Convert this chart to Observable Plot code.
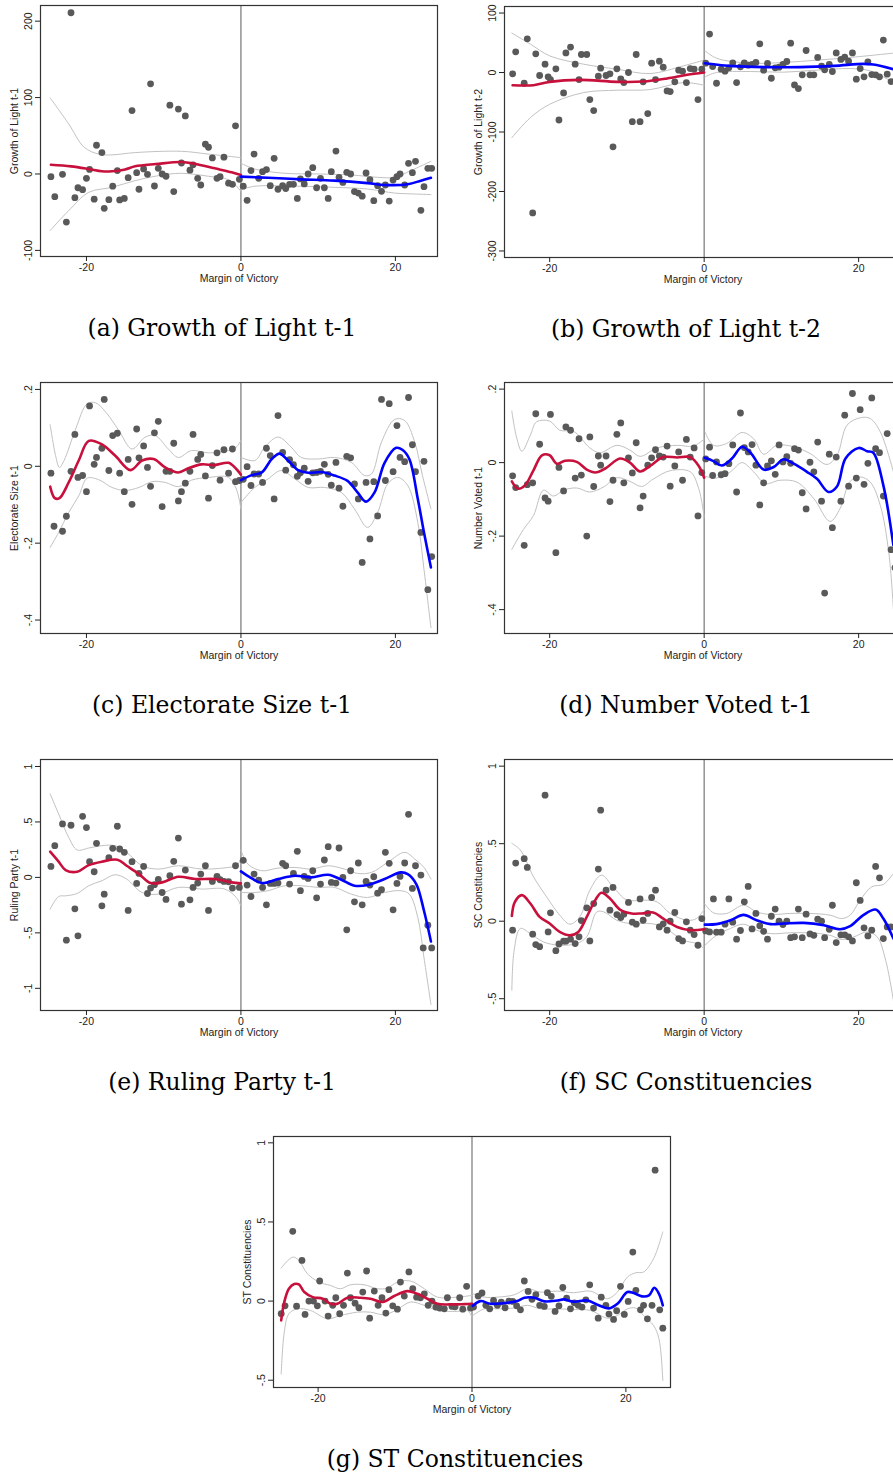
<!DOCTYPE html>
<html><head><meta charset="utf-8">
<script src="https://cdn.jsdelivr.net/npm/d3@7"></script>
<script src="https://cdn.jsdelivr.net/npm/@observablehq/plot@0.6"></script>
<style>
html,body{margin:0;padding:0;background:#fff;}
#page{position:relative;width:893px;height:1476px;overflow:hidden;background:#fff;}
.panel{position:absolute;width:445px;height:290px;}
.panel svg{max-width:none !important;width:445px;height:290px;}
.cap{position:absolute;width:444px;text-align:center;font-family:"DejaVu Serif",serif;font-size:23.5px;line-height:30px;color:#000;white-space:pre;}
</style></head><body><div id="page"></div>
<script>
// ---------- shared ----------
const xTicks = [-20, 0, 20];
const xTitle = "Margin of Victory";

// ---------- (a) Growth of Light t-1 ----------
const ptsA = [[-24.6,-3.5],[-24.1,-29.7],[-23.1,-0.4],[-22.6,-63],[-22.0,211],[-21.5,-31],[-21.1,-18],[-20.5,-20.5],[-20.0,-5.7],[-19.6,6],[-19.0,-33],[-18.7,37.6],[-18.0,28],[-17.7,-45],[-17.1,-33.6],[-16.6,-16],[-16.0,4.4],[-15.7,-34],[-15.1,-32],[-14.6,-4.8],[-14.1,83],[-13.5,1.7],[-13.2,-20],[-12.6,6.6],[-12.1,-0.4],[-11.7,118],[-11.2,-15.7],[-10.7,7.4],[-10.2,0],[-9.7,-3],[-9.2,90],[-8.7,-23],[-8.1,85],[-7.7,14.4],[-7.2,76],[-6.6,5],[-6.2,12],[-5.6,-5.7],[-5.2,-14.4],[-4.6,39],[-4.2,35],[-3.7,21],[-3.1,-5.7],[-2.7,-3.5],[-2.2,22],[-1.6,-12],[-1.1,-13.5],[-0.7,63],[-0.2,-7],
[0.3,-16],[0.8,-34.5],[1.3,4.4],[1.7,26],[2.3,-5.7],[2.8,3],[3.3,5.7],[3.8,-15.3],[4.3,20.5],[4.8,-20],[5.4,-15.3],[5.8,-19],[6.3,-13.5],[6.8,-13.5],[7.3,-32],[7.7,-6.5],[8.2,-13],[8.7,0],[9.3,8.3],[9.8,-18],[10.3,-5.7],[10.8,-18],[11.3,-32],[11.7,3],[12.3,30],[12.7,-4.4],[13.2,-11],[13.7,2.2],[14.2,0],[14.7,-23],[15.2,-25],[15.7,-29],[16.2,1.3],[16.7,-7.4],[17.2,-35],[17.7,-15.3],[18.2,-22.7],[18.7,-14.4],[19.2,-35.4],[19.7,-8],[20.2,-3.5],[20.6,0],[21.2,-14.4],[21.7,14],[22.2,1.7],[22.6,16.6],[23.3,-47.6],[23.7,-16.6],[24.2,7.4],[24.7,7.4]];
const fitLA = [[-24.6,12],[-22,10],[-19.7,6.5],[-18,3.5],[-16.7,3.5],[-15,6],[-13.7,10],[-11,13],[-7.7,15.7],[-6,13.5],[-3.4,7.4],[-1.2,2.2],[0,-1.3]];
const fitRA = [[0,-3.5],[3.5,-5],[7.8,-7],[12.1,-8.7],[16.4,-12],[18.6,-14.4],[21.6,-13.5],[23.3,-8.7],[24.6,-5]];
const ciUpLA = [[-24.7,99.6],[-22.3,65.5],[-20.3,35],[-18.4,26],[-16.7,25],[-13.7,28],[-7.7,29.7],[-4.2,26],[0,21.4]];
const ciLoLA = [[-24.7,-74],[-22.3,-48],[-19.7,-24],[-16.7,-17.5],[-13.7,-8.7],[-10.7,-2.2],[-7.7,0.9],[-4.2,-3],[-1.5,-8],[0,-22.7]];
const ciUpRA = [[0,14],[1.8,6.5],[5.7,0.9],[10,0],[14.3,-1.3],[17.7,-4.4],[19.9,-4.4],[22,4.4],[24.6,16.6]];
const ciLoRA = [[0,-20.5],[1.8,-16],[5.7,-15.7],[12.1,-17.5],[16.4,-19.7],[19.9,-25],[22,-26],[24.6,-27]];
const yTicksA = [200, 100, 0, -100];
const yLabelsA = ["200", "100", "0", "-100"];

// ---------- (b) Growth of Light t-2 ----------
const ptsB = [[-24.8,-2.2],[-24.4,34.8],[-23.3,-18],[-22.9,56.7],[-22.2,-236],[-21.8,31.5],[-21.3,-5],[-20.6,14],[-20.2,-7.3],[-19.9,-11.8],[-19.2,6.2],[-18.8,-79.8],[-18.2,-34.3],[-17.9,33],[-17.3,42.7],[-16.7,14],[-16.2,-11.8],[-15.9,30.3],[-15.2,30.3],[-14.8,-45.5],[-14.3,-64],[-13.7,-6.2],[-13.4,7.3],[-12.7,-5],[-12.2,-2.2],[-11.8,-125],[-11.3,6.2],[-10.8,-10.7],[-10.4,-16.9],[-9.8,0],[-9.3,-82.6],[-8.8,30.3],[-8.3,-82.6],[-7.9,-15.7],[-7.3,-69],[-6.8,15.7],[-6.3,-11.8],[-5.8,19],[-5.3,9],[-4.8,-31],[-4.4,-32],[-3.8,-15.7],[-3.3,4],[-2.8,2.2],[-2.3,-16.9],[-1.8,6.7],[-1.3,5.6],[-0.8,-45.5],[-0.3,5.6],
[0.2,15.7],[0.7,64.6],[1.1,10],[1.6,-18],[2.2,5.6],[2.7,2.2],[3.2,7.9],[3.7,16.3],[4.2,-16.9],[4.7,9.6],[5.2,16.3],[5.7,12.4],[6.2,13.5],[6.7,16.9],[7.2,48.3],[7.7,4],[8.2,15.2],[8.7,-9.6],[9.2,7.9],[9.7,9],[10.2,13.5],[10.7,18.5],[11.2,49.4],[11.7,-20.8],[12.2,-27],[12.7,-3.9],[13.2,37],[13.7,-3.9],[14.2,-3.9],[14.7,25.3],[15.2,10.7],[15.6,4.5],[16.2,13.5],[16.6,1.7],[17.1,33],[17.7,22],[18.2,25.8],[18.7,19],[19.2,33],[19.7,-11.2],[20.2,6.7],[20.7,-7.3],[21.2,18],[21.7,-3.4],[22.2,-3.9],[22.7,-7.3],[23.2,54.5],[23.7,-2.8],[24.2,-15.2]];
const fitLB = [[-24.8,-21.3],[-22.1,-21.3],[-20,-15.7],[-16.1,-12.4],[-11.3,-15.7],[-7.9,-15.2],[-4.8,-10],[-2.2,-3.9],[0,0]];
const fitRB = [[0.1,15.7],[3.8,10.7],[8.1,9],[12.4,9],[16.8,11.2],[20.6,14.6],[21.9,13.5],[24.5,5.6]];
const ciUpLB = [[-24.9,66.3],[-22.5,47.8],[-20,28],[-15.6,14],[-11.3,5.6],[-7,-1.7],[-2.7,11.2],[0,20.8]];
const ciLoLB = [[-24.9,-109.6],[-22.5,-75.8],[-20,-53.4],[-15.6,-33.7],[-11.3,-29.8],[-7,-28.7],[-2.7,-16.9],[0,-21.3]];
const ciUpRB = [[0.1,36.5],[1.6,24],[6,15.7],[10.3,16.9],[14.6,20.8],[18.9,25.3],[24.5,32.6]];
const ciLoRB = [[0.1,-7.3],[1.6,0],[6,1.7],[10.3,0.6],[14.6,4],[18.9,6.7],[21.5,2.8],[24.5,-16.9]];
const yTicksB = [100, 0, -100, -200, -300];
const yLabelsB = ["100", "0", "-100", "-200", "-300"];

// ---------- (c) Electorate Size t-1 ----------
const ptsC = [[-24.6,-0.018],[-24.2,-0.156],[-23.1,-0.169],[-22.6,-0.130],[-22.0,-0.013],[-21.5,0.083],[-21.1,-0.029],[-20.5,-0.024],[-20.0,-0.066],[-19.6,0.157],[-19.0,0.005],[-18.7,0.023],[-18.0,0.047],[-17.7,0.174],[-17.1,-0.011],[-16.6,0.080],[-16.0,0.086],[-15.7,-0.018],[-15.1,-0.066],[-14.6,0.018],[-14.1,-0.099],[-13.5,0.097],[-13.2,0.022],[-12.6,0.053],[-12.1,-0.003],[-11.7,-0.052],[-11.2,0.087],[-10.7,0.117],[-10.2,-0.105],[-9.7,-0.013],[-9.2,-0.013],[-8.7,0.060],[-8.1,-0.090],[-7.7,-0.066],[-7.2,-0.044],[-6.6,-0.013],[-6.2,0.083],[-5.6,0.018],[-5.2,0.031],[-4.6,-0.025],[-4.2,-0.083],[-3.7,0.002],[-3.1,0.035],[-2.7,-0.036],[-2.2,0.043],[-1.6,-0.018],[-1.1,0.045],[-0.7,-0.040],[-0.2,-0.037],
[0.3,-0.034],[0.8,-0.001],[1.3,-0.050],[1.7,-0.020],[2.3,-0.020],[2.8,-0.042],[3.3,0.047],[3.8,0.028],[4.3,-0.085],[4.8,0.132],[5.4,0.036],[5.8,-0.010],[6.3,0.017],[6.8,0.004],[7.3,-0.026],[7.7,-0.017],[8.2,-0.005],[8.7,-0.039],[9.3,-0.017],[9.8,-0.016],[10.3,-0.013],[10.8,0.005],[11.3,-0.021],[11.7,-0.049],[12.3,0.010],[12.7,-0.057],[13.2,-0.104],[13.7,0.026],[14.2,0.022],[14.7,-0.046],[15.2,-0.085],[15.7,-0.250],[16.2,-0.042],[16.7,-0.189],[17.2,-0.040],[17.7,-0.129],[18.2,0.174],[18.7,-0.037],[19.2,0.163],[19.7,-0.014],[20.2,0.106],[20.6,0.023],[21.2,0.012],[21.7,0.179],[22.2,0.056],[22.6,-0.014],[23.3,-0.172],[23.7,0.013],[24.2,-0.321],[24.7,-0.235]];
const fitLC = [[-24.7,-0.053],[-24.1,-0.083],[-23.5,-0.083],[-22.3,-0.042],[-21,0.015],[-19.7,0.066],[-18,0.057],[-16.3,0.028],[-14.3,-0.010],[-12.8,0.015],[-11.3,0.019],[-9.8,-0.003],[-8.1,-0.016],[-6.8,-0.005],[-5.1,0.005],[-3.4,0.003],[-1.6,0.009],[-0.6,-0.007],[0,-0.022]];
const fitRC = [[0,-0.036],[1.4,-0.023],[2.7,-0.016],[4,0.019],[5,0.033],[6.1,0.015],[7.4,-0.010],[8.7,-0.017],[10.4,-0.015],[12.1,-0.024],[13.8,-0.038],[15.1,-0.068],[16.2,-0.092],[17.3,-0.068],[18.6,0.009],[20.1,0.048],[20.9,0.043],[21.8,0.019],[22.9,-0.085],[23.7,-0.172],[24.6,-0.263]];
const ciUpLC = [[-24.7,0.108],[-24,0.028],[-23.5,-0.003],[-22.9,0.015],[-21.4,0.097],[-19.9,0.163],[-18.8,0.165],[-17.5,0.141],[-15.8,0.093],[-14.1,0.045],[-12.4,0.076],[-11.1,0.080],[-9.4,0.045],[-8.1,0.023],[-6.4,0.041],[-4.2,0.035],[-1.6,0.041],[-0.6,0.050],[0,0.067]];
const ciLoLC = [[-24.7,-0.211],[-23.6,-0.172],[-22.3,-0.120],[-21,-0.077],[-19.9,-0.031],[-18.4,-0.035],[-16.7,-0.055],[-15,-0.063],[-13.2,-0.055],[-11.5,-0.040],[-9.8,-0.042],[-8.1,-0.053],[-6.4,-0.036],[-4.2,-0.029],[-1.6,-0.029],[-0.6,-0.059],[0,-0.111]];
const ciUpRC = [[0,0.023],[1.8,0.015],[3.1,0.050],[4.8,0.076],[6.5,0.050],[7.8,0.023],[10,0.019],[12.1,0.023],[14.3,0.010],[16,-0.024],[16.9,-0.020],[18.2,0.063],[19.9,0.122],[21.2,0.119],[22.5,0.063],[23.5,-0.024],[24.6,-0.111]];
const ciLoRC = [[0,-0.094],[1.8,-0.055],[3.5,-0.033],[5.2,-0.011],[7,-0.033],[8.7,-0.055],[10.8,-0.055],[13,-0.068],[14.7,-0.111],[16.4,-0.159],[17.7,-0.120],[19,-0.046],[20.3,-0.029],[21.6,-0.050],[22.9,-0.146],[23.7,-0.268],[24.6,-0.420]];
const yTicksC = [0.2, 0, -0.2, -0.4];
const yLabelsC = [".2", "0", "-.2", "-.4"];

// ---------- (d) Number Voted t-1 ----------
const ptsD = [[-24.8,-0.036],[-24.4,-0.068],[-23.3,-0.225],[-22.9,-0.060],[-22.2,-0.055],[-21.8,0.133],[-21.3,0.050],[-20.6,-0.096],[-20.2,-0.105],[-19.9,0.131],[-19.2,-0.245],[-18.8,-0.013],[-18.2,-0.077],[-17.9,0.097],[-17.3,0.088],[-16.7,-0.042],[-16.2,0.065],[-15.9,-0.034],[-15.2,-0.200],[-14.8,0.070],[-14.3,-0.065],[-13.7,0.018],[-13.4,-0.007],[-12.7,0.018],[-12.2,-0.106],[-11.8,-0.048],[-11.3,0.077],[-10.8,0.108],[-10.4,-0.055],[-9.8,0.013],[-9.3,-0.028],[-8.8,0.054],[-8.3,-0.123],[-7.9,-0.091],[-7.3,-0.007],[-6.8,0.013],[-6.3,0.035],[-5.8,0.018],[-5.3,0.015],[-4.8,0.045],[-4.4,-0.064],[-3.8,-0.009],[-3.3,0.029],[-2.8,-0.048],[-2.3,0.063],[-1.8,0.015],[-1.3,0.040],[-0.8,-0.145],[-0.3,-0.027],
[0.2,0.010],[0.7,0.042],[1.1,-0.035],[1.6,0.002],[2.2,-0.033],[2.7,-0.030],[3.2,-0.003],[3.7,0.048],[4.2,-0.080],[4.7,0.135],[5.2,0.041],[5.7,0.029],[6.2,0.049],[6.7,-0.007],[7.2,-0.115],[7.7,-0.055],[8.2,-0.009],[8.7,0.005],[9.2,-0.032],[9.7,0.048],[10.2,0.002],[10.7,0.016],[11.2,-0.002],[11.7,0.038],[12.2,0.034],[12.7,-0.082],[13.2,-0.126],[13.7,0.001],[14.2,-0.025],[14.7,0.056],[15.2,-0.105],[15.6,-0.355],[16.2,0.023],[16.6,-0.177],[17.1,0.015],[17.7,-0.105],[18.2,0.129],[18.7,-0.064],[19.2,0.188],[19.7,-0.042],[20.2,0.144],[20.7,-0.059],[21.2,-0.002],[21.7,0.176],[22.2,0.038],[22.7,0.027],[23.2,-0.091],[23.7,0.079],[24.2,-0.237],[24.7,-0.286]];
const fitLD = [[-24.9,-0.051],[-24.1,-0.071],[-23.2,-0.062],[-22.1,-0.021],[-21,0.020],[-20,0.020],[-19.1,-0.003],[-18,0.005],[-16.5,0.002],[-15.2,-0.019],[-14.1,-0.027],[-12.8,-0.016],[-10.9,0.011],[-9.6,0],[-8.3,-0.024],[-7,-0.009],[-5.3,0.015],[-3.5,0.014],[-1.8,0.015],[-0.7,-0.009],[0,-0.041]];
const fitRD = [[0.1,0.013],[1.2,0.004],[2.3,-0.008],[3.6,0.011],[4.9,0.043],[6,0.027],[7.7,-0.019],[9,-0.012],[10.3,0.009],[11.6,-0.003],[13.3,-0.025],[14.6,-0.044],[16.1,-0.080],[17.2,-0.065],[18.3,0.011],[20,0.040],[21.1,0.031],[21.9,0.027],[23.2,-0.062],[24.5,-0.225]];
const ciUpLD = [[-24.9,0.140],[-24.3,0.070],[-23.6,0.031],[-22.5,0.075],[-21.7,0.111],[-20,0.113],[-18.7,0.088],[-16.9,0.085],[-14.8,0.040],[-13.5,0.027],[-11.3,0.047],[-9.6,0.034],[-8.3,0.017],[-6.1,0.040],[-3.5,0.047],[-1.4,0.045],[0,0.064]];
const ciLoLD = [[-24.9,-0.236],[-23.4,-0.182],[-22.1,-0.144],[-20.8,-0.075],[-19.5,-0.091],[-18.2,-0.075],[-16.5,-0.069],[-14.8,-0.080],[-13,-0.066],[-11.3,-0.041],[-9.6,-0.051],[-8.1,-0.065],[-6.6,-0.045],[-4.4,-0.022],[-1.8,-0.025],[-0.7,-0.071],[0,-0.148]];
const ciUpRD = [[0.1,0.084],[1.2,0.047],[2.9,0.052],[4.9,0.082],[6.4,0.065],[7.7,0.023],[9.4,0.047],[11.6,0.043],[13.7,0.025],[15.9,-0.005],[17.2,0.020],[18.5,0.102],[20.2,0.122],[21.5,0.120],[22.8,0.084],[24.5,-0.025]];
const ciLoRD = [[0.1,-0.037],[1.6,-0.042],[3.4,-0.025],[4.9,0],[6.4,-0.025],[7.9,-0.057],[9.8,-0.048],[12,-0.053],[14.2,-0.098],[16.3,-0.160],[17.6,-0.125],[18.9,-0.051],[20.2,-0.039],[21.5,-0.053],[22.8,-0.116],[23.9,-0.244],[24.5,-0.398]];
const yTicksD = [0.2, 0, -0.2, -0.4];
const yLabelsD = [".2", "0", "-.2", "-.4"];

// ---------- (e) Ruling Party t-1 ----------
const ptsE = [[-24.6,0.099],[-24.1,0.286],[-23.1,0.482],[-22.6,-0.566],[-22.0,0.470],[-21.5,-0.283],[-21.1,-0.527],[-20.5,0.551],[-20.0,0.449],[-19.6,0.142],[-19.0,0.051],[-18.7,0.307],[-18.0,-0.256],[-17.7,-0.151],[-17.1,0.178],[-16.6,0.262],[-16.0,0.461],[-15.7,0.256],[-15.1,0.226],[-14.6,-0.298],[-14.1,0.142],[-13.5,-0.054],[-13.2,0.036],[-12.6,0.099],[-12.1,-0.145],[-11.7,-0.096],[-11.2,-0.066],[-10.7,-0.018],[-10.2,-0.136],[-9.7,-0.199],[-9.2,0.015],[-8.7,0.145],[-8.1,0.355],[-7.7,-0.241],[-7.2,0.066],[-6.6,-0.202],[-6.2,-0.090],[-5.6,-0.051],[-5.2,0.030],[-4.6,0.105],[-4.2,-0.298],[-3.7,-0.036],[-3.1,0.009],[-2.7,-0.021],[-2.2,-0.036],[-1.6,-0.039],[-1.1,-0.096],[-0.7,0.105],[-0.2,-0.090],
[0.3,0.154],[0.8,-0.069],[1.3,-0.172],[1.7,0.030],[2.3,-0.024],[2.8,-0.090],[3.3,-0.247],[3.8,-0.054],[4.3,-0.054],[4.8,-0.051],[5.4,0.127],[5.8,0.105],[6.3,-0.060],[6.8,0.036],[7.3,0.235],[7.7,-0.120],[8.2,0.009],[8.7,-0.009],[9.3,0.060],[9.8,-0.184],[10.3,-0.060],[10.8,0.157],[11.3,0.277],[11.7,-0.045],[12.3,-0.051],[12.7,0.265],[13.2,0.000],[13.7,-0.473],[14.2,0.060],[14.7,-0.220],[15.2,0.130],[15.7,-0.247],[16.2,-0.036],[16.7,-0.069],[17.2,0.006],[17.7,-0.142],[18.2,-0.111],[18.7,0.226],[19.2,0.127],[19.7,-0.292],[20.2,-0.054],[20.6,0.009],[21.2,0.130],[21.7,0.569],[22.2,-0.099],[22.6,0.105],[23.3,0.021],[23.6,-0.636],[24.2,-0.431],[24.7,-0.636]];
const fitLE = [[-24.7,0.232],[-23.6,0.142],[-22.7,0.066],[-21.2,0.051],[-19.7,0.111],[-18,0.142],[-16,0.160],[-14.8,0.105],[-13.2,0.030],[-11.7,-0.051],[-10.2,-0.045],[-8.1,0.006],[-5.9,-0.015],[-3.4,-0.015],[-1.2,-0.045],[0,-0.054]];
const fitRE = [[0,0.054],[1.4,-0.009],[2.7,-0.051],[4.8,-0.015],[7,0.015],[9.1,0],[11.3,0.024],[13,-0.021],[14.7,-0.075],[16.4,-0.069],[18.6,-0.015],[20.7,0.045],[21.6,0.030],[22.7,-0.060],[23.7,-0.301],[24.6,-0.578]];
const ciUpLE = [[-24.7,0.753],[-23.6,0.572],[-22.3,0.361],[-21.2,0.247],[-19.7,0.265],[-18,0.286],[-16.3,0.286],[-14.8,0.226],[-12.8,0.105],[-10.7,0.075],[-8.1,0.105],[-5.1,0.075],[-1.6,0.090],[-0.6,0.105],[0,0.166]];
const ciLoLE = [[-24.7,-0.286],[-23.6,-0.172],[-22.7,-0.166],[-21.2,-0.145],[-19.7,-0.075],[-18,-0.030],[-16.3,0.024],[-14.8,-0.015],[-12.8,-0.136],[-10.7,-0.151],[-8.1,-0.090],[-5.1,-0.105],[-2.1,-0.105],[-0.6,-0.181],[0,-0.256]];
const ciUpRE = [[0,0.247],[0.9,0.120],[2.7,0.060],[4.8,0.084],[7,0.090],[9.1,0.075],[11.3,0.105],[13.4,0.075],[15.1,0.036],[16.9,0.045],[19,0.136],[21.2,0.226],[22.5,0.166],[23.7,0.090],[24.6,-0.015]];
const ciLoRE = [[0,-0.136],[1.8,-0.136],[3.5,-0.120],[5.7,-0.075],[7.8,-0.075],[10,-0.090],[12.1,-0.090],[14.3,-0.151],[16.4,-0.181],[18.6,-0.136],[20.7,-0.120],[21.8,-0.151],[22.9,-0.361],[23.7,-0.723],[24.6,-1.145]];
const yTicksE = [1, 0.5, 0, -0.5, -1];
const yLabelsE = ["1", ".5", "0", "-.5", "-1"];

// ---------- (f) SC Constituencies ----------
const ptsF = [[-24.8,-0.058],[-24.4,0.375],[-23.3,0.403],[-22.9,0.347],[-22.2,-0.084],[-21.8,-0.151],[-21.3,-0.164],[-20.6,0.813],[-20.2,-0.069],[-19.9,0.054],[-19.2,-0.190],[-18.8,-0.147],[-18.2,-0.129],[-17.9,-0.129],[-17.3,-0.116],[-16.7,-0.144],[-16.2,-0.101],[-15.9,0.004],[-15.2,0.086],[-14.8,-0.127],[-14.3,0.114],[-13.7,0.336],[-13.4,0.716],[-12.7,0.200],[-12.2,0.071],[-11.8,0.218],[-11.3,0.043],[-10.8,0.024],[-10.4,0.045],[-9.8,0.121],[-9.3,-0.006],[-8.8,-0.019],[-8.3,0.144],[-7.9,0.006],[-7.3,0.050],[-6.8,0.153],[-6.3,0.200],[-5.8,-0.037],[-5.3,-0.017],[-4.8,-0.058],[-4.4,0.000],[-3.8,0.056],[-3.3,-0.112],[-2.8,-0.127],[-2.3,-0.004],[-1.8,-0.058],[-1.3,-0.086],[-0.8,-0.155],[-0.3,0.017],
[0.2,-0.063],[0.7,-0.069],[1.2,0.144],[1.6,-0.071],[2.2,-0.071],[2.7,-0.019],[3.2,0.144],[3.7,-0.006],[4.2,-0.116],[4.7,-0.060],[5.2,0.125],[5.7,0.224],[6.2,-0.050],[6.7,0.050],[7.2,-0.030],[7.7,-0.065],[8.2,-0.116],[8.7,0.032],[9.2,0.078],[9.7,0.000],[10.2,-0.022],[10.7,0.000],[11.2,-0.106],[11.7,-0.101],[12.2,0.078],[12.7,-0.106],[13.2,0.045],[13.7,-0.082],[14.2,-0.091],[14.7,0.013],[15.2,0.000],[15.6,-0.106],[16.2,-0.052],[16.6,0.103],[17.1,-0.138],[17.7,-0.088],[18.2,-0.088],[18.7,-0.101],[19.2,-0.127],[19.7,0.248],[20.2,0.134],[20.7,-0.043],[21.2,-0.095],[21.7,-0.058],[22.2,0.353],[22.7,0.280],[23.2,-0.112],[23.7,-0.037],[24.2,-0.037]];
const fitLF = [[-24.9,0.034],[-24.5,0.125],[-23.6,0.168],[-22.5,0.114],[-21.3,0.028],[-20,-0.015],[-18.7,-0.069],[-17.4,-0.091],[-16.3,-0.069],[-15.2,0.028],[-14.1,0.136],[-13.3,0.183],[-12.2,0.147],[-10.9,0.075],[-9.4,0.050],[-8.1,0.050],[-6.6,0.056],[-5.3,0.017],[-3.5,-0.037],[-1.8,-0.058],[0,-0.052]];
const fitRF = [[0.1,-0.022],[1.6,-0.019],[3.4,0.006],[5.1,0.041],[6.8,0.006],[8.6,-0.019],[10.3,-0.015],[12.9,-0.011],[15.5,-0.026],[17.6,-0.052],[18.9,-0.032],[20.6,0.039],[22.2,0.075],[23.2,0.017],[24.5,-0.112]];
const ciUpLF = [[-24.9,0.502],[-23.8,0.459],[-22.1,0.287],[-20.4,0.157],[-18.7,0.039],[-17.4,-0.019],[-16.1,0.028],[-14.8,0.200],[-13.3,0.297],[-11.8,0.222],[-10,0.136],[-7.9,0.136],[-6.1,0.125],[-4.4,0.050],[-2.2,0.006],[-1,0.017],[0,0.075]];
const ciLoLF = [[-24.9,-0.446],[-24.6,-0.188],[-23.8,-0.047],[-22.5,-0.080],[-20.8,-0.134],[-18.7,-0.155],[-16.5,-0.144],[-15.2,-0.101],[-13.9,0.060],[-13,0.060],[-11.3,0.006],[-9.6,-0.015],[-7,-0.015],[-5.3,-0.037],[-2.7,-0.123],[-1,-0.144],[0,-0.177]];
const ciUpRF = [[0.1,0.110],[1.2,0.054],[2.9,0.050],[5.1,0.103],[6.8,0.060],[8.6,0.043],[11.1,0.050],[13.7,0.050],[16.3,0.039],[17.8,0.017],[18.9,0.039],[20.2,0.136],[21.7,0.222],[23.2,0.237],[24.5,0.308]];
const ciLoRF = [[0.1,-0.155],[1.6,-0.091],[3.4,-0.047],[5.1,-0.019],[6.8,-0.058],[8.6,-0.080],[11.1,-0.075],[13.7,-0.075],[16.3,-0.091],[17.8,-0.118],[19.4,-0.101],[21.1,-0.069],[22.4,-0.101],[23.5,-0.252],[24.5,-0.511]];
const yTicksF = [1, 0.5, 0, -0.5];
const yLabelsF = ["1", ".5", "0", "-.5"];

// ---------- (g) ST Constituencies ----------
const ptsG = [[-24.8,-0.080],[-24.3,-0.030],[-23.3,0.441],[-22.8,-0.032],[-22.1,0.257],[-21.7,-0.084],[-21.2,0.000],[-20.6,0.000],[-20.1,-0.030],[-19.8,0.127],[-19.1,0.000],[-18.7,-0.095],[-18.1,-0.027],[-17.7,0.021],[-17.2,-0.080],[-16.7,-0.027],[-16.2,0.177],[-15.8,0.021],[-15.2,-0.013],[-14.7,-0.042],[-14.2,0.057],[-13.7,0.190],[-13.3,-0.108],[-12.7,0.063],[-12.2,-0.027],[-11.7,0.021],[-11.2,-0.076],[-10.8,0.072],[-10.3,-0.030],[-9.7,-0.051],[-9.3,0.120],[-8.8,0.032],[-8.2,0.184],[-7.7,0.078],[-7.2,0.025],[-6.7,0.021],[-6.2,0.046],[-5.7,-0.027],[-5.2,0.000],[-4.7,-0.038],[-4.2,-0.044],[-3.6,-0.049],[-3.2,0.021],[-2.6,-0.034],[-2.2,-0.036],[-1.6,0.021],[-1.2,-0.051],[-0.7,0.093],[-0.2,-0.044],
[0.2,-0.038],[0.8,0.032],[1.3,0.051],[1.8,-0.027],[2.3,-0.049],[2.8,0.004],[3.3,-0.027],[3.8,-0.006],[4.3,-0.042],[4.8,0.000],[5.3,-0.002],[5.8,-0.030],[6.3,-0.055],[6.8,0.127],[7.3,0.061],[7.8,0.011],[8.3,0.040],[8.8,-0.027],[9.4,-0.034],[9.8,0.053],[10.3,0.030],[10.8,-0.065],[11.3,-0.030],[11.8,0.086],[12.3,0.019],[12.8,-0.049],[13.3,-0.011],[13.8,-0.027],[14.3,-0.038],[14.8,0.008],[15.3,0.103],[15.8,-0.044],[16.4,-0.108],[16.8,0.025],[17.4,-0.027],[17.8,-0.082],[18.4,-0.116],[18.8,-0.061],[19.3,0.093],[19.8,-0.084],[20.3,-0.002],[20.9,0.310],[21.3,0.068],[21.9,-0.055],[22.3,-0.027],[22.8,-0.112],[23.4,-0.027],[23.8,0.827],[24.4,-0.055],[24.8,-0.171]];
const fitLG = [[-24.8,-0.122],[-24.4,-0.006],[-23.8,0.078],[-23.1,0.108],[-22.5,0.105],[-21.8,0.057],[-20.7,0.025],[-19.4,0.015],[-18.4,-0.017],[-17.5,-0.017],[-16.2,0.021],[-14.5,0.021],[-13.2,0.015],[-11.6,-0.006],[-10.1,0.032],[-8.4,0.063],[-7.1,0.046],[-5.8,0.015],[-4.5,-0.017],[-2.8,-0.021],[-1,-0.019],[0,-0.017]];
const fitRG = [[0.1,-0.030],[1.1,0],[2.4,-0.017],[4.2,-0.013],[5.9,0],[6.8,0.021],[8.1,0.021],[9.4,-0.002],[11.1,0.004],[11.9,0.011],[13.2,-0.004],[15,0.004],[16.3,-0.023],[17.8,-0.046],[18.9,-0.017],[20.2,0.057],[21,0.051],[22.1,0.030],[23,0.036],[23.7,0.084],[24.3,0.046],[24.8,-0.027]];
const ciUpLG = [[-24.8,0.209],[-23.3,0.278],[-22.5,0.257],[-21.4,0.173],[-19.9,0.120],[-18.4,0.099],[-17.1,0.078],[-15.8,0.103],[-14,0.103],[-12.3,0.078],[-11,0.082],[-9.7,0.120],[-8,0.127],[-6.2,0.078],[-4.5,0.025],[-1.9,0.025],[0,0.036]];
const ciLoLG = [[-24.8,-0.460],[-24.4,-0.196],[-23.8,-0.080],[-22.7,-0.049],[-21,-0.059],[-18.8,-0.112],[-17.1,-0.091],[-14.9,-0.070],[-13.2,-0.070],[-11.4,-0.086],[-9.7,-0.053],[-8,-0.006],[-6.2,-0.027],[-4.5,-0.059],[-1.9,-0.065],[-0.6,-0.059],[0,-0.101]];
const ciUpRG = [[0.1,0.046],[1.6,0.025],[3.3,0.025],[5.5,0.040],[7.2,0.078],[8.9,0.057],[11.1,0.063],[13.2,0.053],[15.4,0.063],[17.6,0.015],[18.9,0.057],[20.2,0.152],[21.3,0.179],[22.3,0.184],[23.6,0.268],[24.8,0.437]];
const ciLoRG = [[0.1,-0.091],[1.6,-0.049],[3.3,-0.049],[5.5,-0.044],[7.2,-0.027],[8.9,-0.049],[11.1,-0.049],[13.2,-0.053],[15.4,-0.059],[17.6,-0.108],[18.9,-0.091],[20.2,-0.049],[21.3,-0.044],[22.3,-0.091],[23.6,-0.154],[24.3,-0.238],[24.8,-0.502]];
const yTicksG = [1, 0.5, 0, -0.5];
const yLabelsG = ["1", ".5", "0", "-.5"];

// ---------- panel builder ----------
const RED = "#c8103c", BLUE = "#0000ff", DOT = "#595959", CI = "#c2c2c2";
const xy = {x: d => d[0], y: d => d[1]};

function makePanel(p) {
  const ci = (data) => Plot.line(data, {...xy, stroke: CI, strokeWidth: 1, curve: "catmull-rom"});
  return Plot.plot({
    width: 445, height: 290,
    marginLeft: 40, marginRight: 8, marginTop: 5, marginBottom: 34,
    x: {domain: p.xDomain},
    y: {domain: p.yDomain},
    style: {fontFamily: "'Liberation Sans', Arial, sans-serif", fontSize: "10.5px", color: "#222", background: "transparent", overflow: "visible", maxWidth: "none"},
    marks: [
      Plot.ruleX([0], {stroke: "#777", strokeWidth: 1.2}),
      ci(p.ciUpL), ci(p.ciLoL), ci(p.ciUpR), ci(p.ciLoR),
      Plot.dot(p.pts, {...xy, r: 3.4, fill: DOT, stroke: "none"}),
      Plot.line(p.fitL, {...xy, stroke: RED, strokeWidth: 2.6, curve: "catmull-rom"}),
      Plot.line(p.fitR, {...xy, stroke: BLUE, strokeWidth: 2.6, curve: "catmull-rom"}),
      Plot.frame({stroke: "#333", strokeWidth: 1.2}),
      Plot.axisX({ticks: xTicks, tickSize: 5, tickPadding: 2, tickFormat: d => String(d), label: null}),
      Plot.axisY({ticks: p.yTicks, tickSize: 5, tickFormat: () => "", label: null}),
      Plot.text(p.yTicks, {y: d => d, text: (d, i) => p.yLabels[i], frameAnchor: "left", dx: -12, rotate: -90, textAnchor: "middle", lineAnchor: "middle"}),
      Plot.text([p.yTitle], {text: d => d, frameAnchor: "left", dx: -26, rotate: -90, textAnchor: "middle", lineAnchor: "middle"}),
      Plot.text([xTitle], {text: d => d, frameAnchor: "bottom", dy: 22, lineAnchor: "middle"})
    ]
  });
}

const panels = [
  {left: 0, top: 0, caption: "(a) Growth of Light t-1", yTitle: "Growth of Light t-1", xDomain: [-25.95, 25.45], yDomain: [-108, 220.5], pts: ptsA, fitL: fitLA, fitR: fitRA, ciUpL: ciUpLA, ciLoL: ciLoLA, ciUpR: ciUpRA, ciLoR: ciLoRA, yTicks: yTicksA, yLabels: yLabelsA},
  {left: 464, top: 1, caption: "(b) Growth of Light t-2", yTitle: "Growth of Light t-2", xDomain: [-25.85, 25.55], yDomain: [-311, 111], pts: ptsB, fitL: fitLB, fitR: fitRB, ciUpL: ciUpLB, ciLoL: ciLoLB, ciUpR: ciUpRB, ciLoR: ciLoRB, yTicks: yTicksB, yLabels: yLabelsB},
  {left: 0, top: 377, caption: "(c) Electorate Size t-1", yTitle: "Electorate Size t-1", xDomain: [-25.95, 25.45], yDomain: [-0.435, 0.218], pts: ptsC, fitL: fitLC, fitR: fitRC, ciUpL: ciUpLC, ciLoL: ciLoLC, ciUpR: ciUpRC, ciLoR: ciLoRC, yTicks: yTicksC, yLabels: yLabelsC},
  {left: 464, top: 377, caption: "(d) Number Voted t-1", yTitle: "Number Voted t-1", xDomain: [-25.85, 25.55], yDomain: [-0.465, 0.218], pts: ptsD, fitL: fitLD, fitR: fitRD, ciUpL: ciUpLD, ciLoL: ciLoLD, ciUpR: ciUpRD, ciLoR: ciLoRD, yTicks: yTicksD, yLabels: yLabelsD},
  {left: 0, top: 754, caption: "(e) Ruling Party t-1", yTitle: "Ruling Party t-1", xDomain: [-25.95, 25.45], yDomain: [-1.2, 1.063], pts: ptsE, fitL: fitLE, fitR: fitRE, ciUpL: ciUpLE, ciLoL: ciLoLE, ciUpR: ciUpRE, ciLoR: ciLoRE, yTicks: yTicksE, yLabels: yLabelsE},
  {left: 464, top: 754, caption: "(f) SC Constituencies", yTitle: "SC Constituencies", xDomain: [-25.85, 25.55], yDomain: [-0.576, 1.043], pts: ptsF, fitL: fitLF, fitR: fitRF, ciUpL: ciUpLF, ciLoL: ciLoLF, ciUpR: ciUpRF, ciLoR: ciLoRF, yTicks: yTicksF, yLabels: yLabelsF},
  {left: 233, top: 1131, caption: "(g) ST Constituencies", yTitle: "ST Constituencies", xDomain: [-25.8, 25.8], yDomain: [-0.546, 1.04], pts: ptsG, fitL: fitLG, fitR: fitRG, ciUpL: ciUpLG, ciLoL: ciLoLG, ciUpR: ciUpRG, ciLoR: ciLoRG, yTicks: yTicksG, yLabels: yLabelsG}
];

const page = document.getElementById("page");
for (const p of panels) {
  const div = document.createElement("div");
  div.className = "panel";
  div.style.left = p.left + "px";
  div.style.top = p.top + "px";
  div.appendChild(makePanel(p));
  page.appendChild(div);
  const cap = document.createElement("div");
  cap.className = "cap";
  cap.style.left = p.left + "px";
  cap.style.top = (p.top + 313) + "px";
  cap.textContent = p.caption;
  page.appendChild(cap);
}
</script>
</body></html>
